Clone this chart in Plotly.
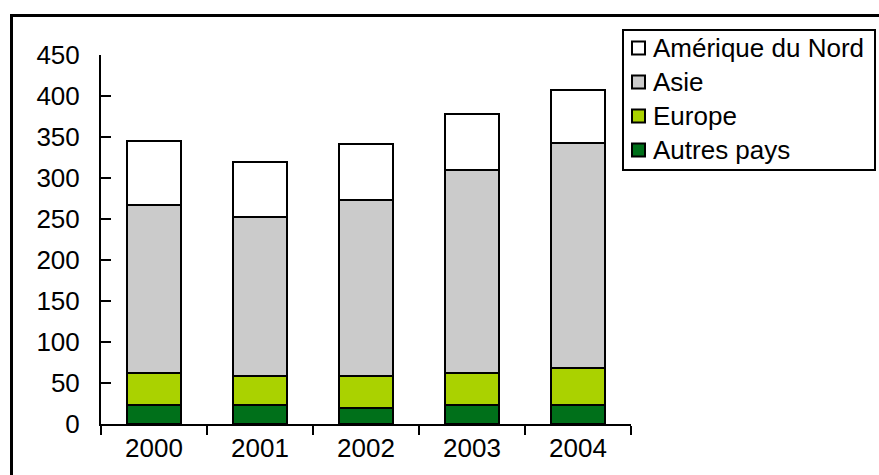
import plotly.graph_objects as go

# Category axis
years = ["2000", "2001", "2002", "2003", "2004"]

# Stacked series, bottom to top
autres_pays = [23, 23, 19, 23, 23]
europe = [39, 36, 40, 39, 45]
asie = [205, 193, 214, 248, 275]
amerique_nord = [78, 68, 69, 68, 64]

series_names = ["Autres pays", "Europe", "Asie", "Amérique du Nord"]
series_values = [autres_pays, europe, asie, amerique_nord]
series_colors = ["#00701a", "#aad200", "#cbcbcb", "#ffffff"]

y_ticks = [0, 50, 100, 150, 200, 250, 300, 350, 400, 450]

FONT = "Liberation Sans, Arial, Helvetica, sans-serif"
FS = 26

fig = go.Figure()
for name, vals, col in zip(series_names, series_values, series_colors):
    fig.add_trace(go.Bar(
        x=years, y=vals, name=name, showlegend=False,
        marker=dict(color=col, line=dict(color="black", width=2)),
    ))

W, H = 879, 475
L, R, T, B = 101, 248, 55, 51
PW, PH = W - L - R, H - T - B


def px_x(p):
    return (p - L) / PW


def px_y(p):
    return (H - B - p) / PH


shapes = [
    # outer chart frame
    dict(type="rect", xref="paper", yref="paper",
         x0=px_x(11.5), x1=px_x(W + 20), y0=px_y(H + 20), y1=px_y(15.5),
         line=dict(color="black", width=3), fillcolor="rgba(0,0,0,0)",
         layer="below"),
    # legend box
    dict(type="rect", xref="paper", yref="paper",
         x0=px_x(623), x1=px_x(875), y0=px_y(170), y1=px_y(30),
         line=dict(color="black", width=2), fillcolor="white"),
]
annotations = []

# legend entries, top row = top of the stack
row_y0, row_step = 48, 34
for i, (name, col) in enumerate(zip(series_names[::-1], series_colors[::-1])):
    cy = row_y0 + i * row_step
    shapes.append(dict(
        type="rect", xref="paper", yref="paper",
        x0=px_x(632), x1=px_x(645), y0=px_y(cy + 6.5), y1=px_y(cy - 6.5),
        line=dict(color="black", width=2), fillcolor=col,
    ))
    annotations.append(dict(
        xref="paper", yref="paper", x=px_x(651), y=px_y(cy),
        xanchor="left", yanchor="middle", showarrow=False, text=name,
        font=dict(family=FONT, size=FS, color="black"),
    ))

fig.update_layout(
    width=W, height=H,
    margin=dict(l=L, r=R, t=T, b=B, pad=0, autoexpand=False),
    barmode="stack",
    bargap=0.49,
    paper_bgcolor="white",
    plot_bgcolor="white",
    font=dict(family=FONT, size=FS, color="black"),
    showlegend=False,
    xaxis=dict(
        type="category",
        showline=True, linecolor="black", linewidth=2,
        ticks="outside", tickson="boundaries", ticklen=9,
        tickwidth=2, tickcolor="black",
        showgrid=False, zeroline=False,
        tickfont=dict(family=FONT, size=FS, color="black"),
    ),
    yaxis=dict(
        range=[0, 450],
        tickvals=y_ticks,
        showline=True, linecolor="black", linewidth=2,
        ticks="inside", ticklen=10, tickwidth=2, tickcolor="black",
        showgrid=False, zeroline=False,
        ticklabelstandoff=14,
        tickfont=dict(family=FONT, size=FS, color="black"),
    ),
    shapes=shapes,
    annotations=annotations,
)

fig.write_html("out.html")
